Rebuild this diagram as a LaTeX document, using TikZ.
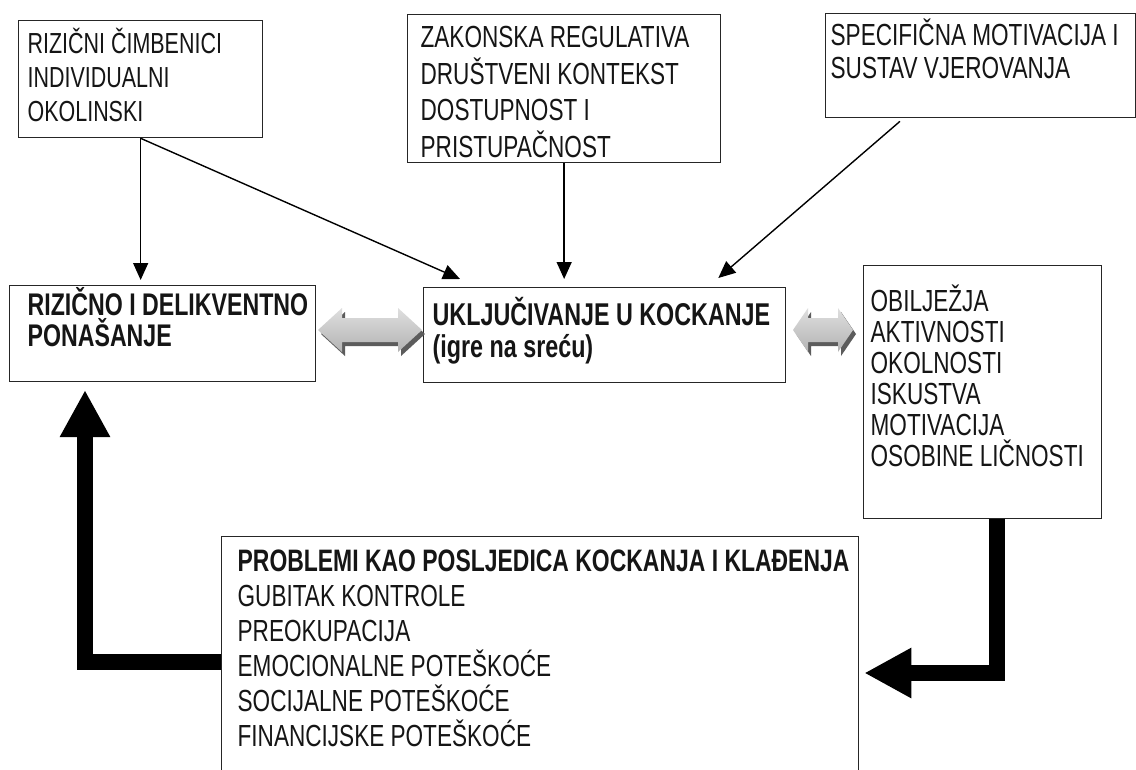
\documentclass[tikz,border=0pt]{standalone}
\usepackage{fontspec}
\setmainfont{Liberation Sans}[FakeStretch=0.74]
\usetikzlibrary{arrows.meta}
\definecolor{txt}{HTML}{151515}
\definecolor{brd}{HTML}{262626}
\definecolor{gshadow}{HTML}{5C5C5C}
\newcommand{\bxt}[7]{\parbox[t][#2][t]{#1}{\fontsize{#5}{#6}\selectfont\raggedright\leftskip=#3\relax\rule{0pt}{#4}#7\par}}
\newcommand{\garrow}[4]{%
  \fill[gshadow,shift={(3,4)}] (#1,#3) -- ({#1+#4},{#3-22}) -- ({#1+#4},{#3-12}) -- ({#2-#4},{#3-12}) -- ({#2-#4},{#3-22}) -- (#2,#3) -- ({#2-#4},{#3+22}) -- ({#2-#4},{#3+12}) -- ({#1+#4},{#3+12}) -- ({#1+#4},{#3+22}) -- cycle;
  \shade[top color=gray!25,bottom color=gray!60] (#1,#3) -- ({#1+#4},{#3-22}) -- ({#1+#4},{#3-12}) -- ({#2-#4},{#3-12}) -- ({#2-#4},{#3-22}) -- (#2,#3) -- ({#2-#4},{#3+22}) -- ({#2-#4},{#3+12}) -- ({#1+#4},{#3+12}) -- ({#1+#4},{#3+22}) -- cycle;}
\tikzset{
  bx/.style={draw=brd,line width=1.3pt,inner sep=0pt,anchor=north west,text=txt,fill=white},
  thinarr/.style={draw=black,line width=1.4pt,-{Triangle[length=17pt,width=15pt]}},
  thickarr/.style={draw=black,line width=16pt,line join=miter,-{Triangle[length=47pt,width=47pt]}}
}
\begin{document}
\begin{tikzpicture}[x=1pt,y=-1pt]
\useasboundingbox (0,0) rectangle (1136,769);
\fill[white] (0,0) rectangle (1136,769);
% boxes
\node[bx] (b1) at (18,20) {\bxt{244pt}{117pt}{9pt}{33pt}{29pt}{34pt}{RIZIČNI ČIMBENICI\\INDIVIDUALNI\\OKOLINSKI}};
\node[bx] (b2) at (407,14) {\bxt{313pt}{148pt}{13pt}{33pt}{30.5pt}{36.5pt}{ZAKONSKA REGULATIVA\\DRUŠTVENI KONTEKST\\DOSTUPNOST I\\PRISTUPAČNOST}};
\node[bx] (b3) at (825,13) {\bxt{310pt}{104pt}{5pt}{32pt}{30.5pt}{33pt}{SPECIFIČNA MOTIVACIJA I\\SUSTAV VJEROVANJA}};
\node[bx] (b4) at (9,285) {\bxt{306pt}{96pt}{18pt}{30pt}{31.3pt}{31pt}{\bfseries RIZIČNO I DELIKVENTNO\\PONAŠANJE}};
\node[bx] (b5) at (423,287) {\bxt{362pt}{95pt}{9pt}{38pt}{31.5pt}{32pt}{\bfseries UKLJUČIVANJE U KOCKANJE\\(igre na sreću)}};
\node[bx] (b6) at (863,265) {\bxt{238pt}{253pt}{7pt}{46pt}{30.5pt}{31pt}{OBILJEŽJA\\AKTIVNOSTI\\OKOLNOSTI\\ISKUSTVA\\MOTIVACIJA\\OSOBINE LIČNOSTI}};
\node[bx] (b7) at (221,536) {\bxt{637pt}{250pt}{16pt}{35pt}{30.5pt}{35pt}{{\fontsize{31pt}{35pt}\selectfont\bfseries PROBLEMI KAO POSLJEDICA KOCKANJA I KLAĐENJA}\\GUBITAK KONTROLE\\PREOKUPACIJA\\EMOCIONALNE POTEŠKOĆE\\SOCIJALNE POTEŠKOĆE\\FINANCIJSKE POTEŠKOĆE}};
% thin arrows
\draw[thinarr] (b1.south) -- ([yshift=5pt]b4.north -| b1.south);
\draw[thinarr] (b1.south) -- ([xshift=37pt,yshift=8pt]b5.north west);
\draw[thinarr] (b2.south) -- ([yshift=8pt]b5.north -| b2.south);
\draw[thinarr] ([xshift=75pt,yshift=-3pt]b3.south west) -- ([xshift=-68pt,yshift=9pt]b5.north east);
% grey double arrows
\garrow{318}{422}{330}{24}
\garrow{793}{853}{330}{15}
% thick arrows
\coordinate (rc) at (0,673);
\draw[thickarr] ([xshift=134pt]b6.south west) |- ([xshift=5pt]b7.east |- rc);
\coordinate (lc) at (0,662);
\coordinate (ltip) at (85,390);
\draw[thickarr] (b7.west |- lc) -| (ltip);
\end{tikzpicture}
\end{document}
